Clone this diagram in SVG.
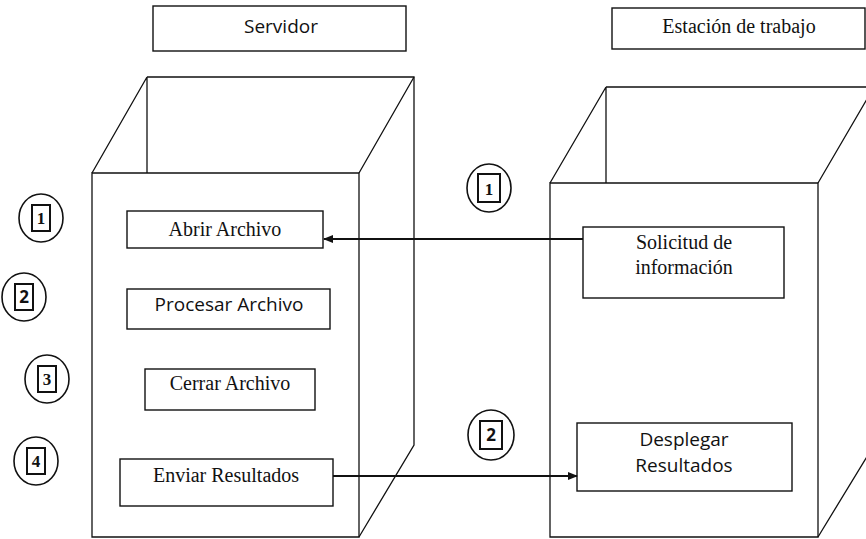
<svg xmlns="http://www.w3.org/2000/svg" width="866" height="539" viewBox="0 0 866 539">
  <style>
    .ln { fill: none; stroke: #111; stroke-width: 1.3; }
    .box { fill: #fff; stroke: #111; stroke-width: 1.4; }
    .ring { fill: #fff; stroke: #111; stroke-width: 1.6; }
    .sq { fill: #fff; stroke: #111; stroke-width: 2; }
    .serif { font-family: "Liberation Serif", "Times New Roman", serif; fill: #111; text-anchor: middle; }
    .sans { font-family: "Open Sans", "Liberation Sans", sans-serif; fill: #111; text-anchor: middle; }
    .lbl { font-size: 20px; }
    .num { font-size: 17px; font-weight: bold; }
    .conn { fill: none; stroke: #111; stroke-width: 1.8; }
  </style>
  <defs>
    <marker id="arrow" markerWidth="10" markerHeight="8" refX="9" refY="4" orient="auto" markerUnits="userSpaceOnUse">
      <path d="M0,0 L10,4 L0,8 Z" fill="#111"/>
    </marker>
  </defs>
  <rect width="866" height="539" fill="#fff"/>

  <!-- Title boxes -->
  <g id="servidor-title">
    <rect class="box" x="153" y="6" width="253" height="45"/>
    <text class="sans" x="281" y="33" font-size="19">Servidor</text>
  </g>
  <g id="estacion-title">
    <rect class="box" x="612" y="8" width="253" height="41"/>
    <text class="serif" x="739" y="33" font-size="20">Estación de trabajo</text>
  </g>

  <!-- Server cabinet (open box drawn in perspective) -->
  <g id="servidor">
    <path class="ln" d="M147,77 H414 V445 L359,537"/>
    <path class="ln" d="M147,77 L92,173 M147,77 V173 M414,77 L359,173"/>
    <path class="ln" d="M92,173 H359 V537 H92 Z"/>
  </g>

  <!-- Workstation cabinet -->
  <g id="estacion">
    <path class="ln" d="M606,87 H874 V445 L818,537"/>
    <path class="ln" d="M606,87 L550,183 M606,87 V183 M874,87 L818,183"/>
    <path class="ln" d="M550,183 H818 V537 H550 Z"/>
  </g>

  <!-- Server steps -->
  <g id="paso-1">
    <ellipse class="ring" cx="41" cy="218" rx="22" ry="24"/>
    <rect class="sq" x="32" y="205" width="18" height="26"/>
    <text class="serif num" x="41" y="224">1</text>
  </g>
  <g id="paso-2">
    <ellipse class="ring" cx="24" cy="297" rx="22" ry="24"/>
    <rect class="sq" x="15" y="284" width="18" height="26"/>
    <text class="sans num" x="24" y="303">2</text>
  </g>
  <g id="paso-3">
    <ellipse class="ring" cx="47" cy="379" rx="22" ry="24"/>
    <rect class="sq" x="38" y="366" width="18" height="26"/>
    <text class="serif num" x="47" y="385">3</text>
  </g>
  <g id="paso-4">
    <ellipse class="ring" cx="36" cy="461" rx="22" ry="24"/>
    <rect class="sq" x="27" y="448" width="18" height="26"/>
    <text class="serif num" x="36" y="467">4</text>
  </g>

  <g id="abrir">
    <rect class="box" x="127" y="211" width="196" height="37"/>
    <text class="serif lbl" x="225" y="236">Abrir Archivo</text>
  </g>
  <g id="procesar">
    <rect class="box" x="127" y="289" width="203" height="40"/>
    <text class="sans" x="229" y="311" font-size="19">Procesar Archivo</text>
  </g>
  <g id="cerrar">
    <rect class="box" x="145" y="369" width="170" height="41"/>
    <text class="serif lbl" x="230" y="390">Cerrar Archivo</text>
  </g>
  <g id="enviar">
    <rect class="box" x="120" y="459" width="213" height="47"/>
    <text class="serif lbl" x="226" y="482">Enviar Resultados</text>
  </g>

  <!-- Workstation boxes -->
  <g id="solicitud">
    <rect class="box" x="583" y="227" width="201" height="71"/>
    <text class="serif lbl" x="684" y="249">Solicitud de</text>
    <text class="serif lbl" x="684" y="274">información</text>
  </g>
  <g id="desplegar">
    <rect class="box" x="577" y="423" width="215" height="68"/>
    <text class="sans" x="684" y="446" font-size="19">Desplegar</text>
    <text class="sans" x="684" y="472" font-size="19">Resultados</text>
  </g>

  <!-- Message markers -->
  <g id="mensaje-1">
    <ellipse class="ring" cx="489" cy="188" rx="22" ry="24"/>
    <rect class="sq" x="478" y="174" width="22" height="28"/>
    <text class="serif num" x="489" y="195">1</text>
  </g>
  <g id="mensaje-2">
    <ellipse class="ring" cx="491" cy="435" rx="23" ry="25"/>
    <rect class="sq" x="480" y="421" width="22" height="28"/>
    <text class="sans num" x="491" y="441">2</text>
  </g>

  <!-- Connectors -->
  <g id="conectores">
    <line class="conn" x1="583" y1="239" x2="324" y2="239" marker-end="url(#arrow)"/>
    <line class="conn" x1="333" y1="476" x2="577" y2="476" marker-end="url(#arrow)"/>
  </g>
</svg>
